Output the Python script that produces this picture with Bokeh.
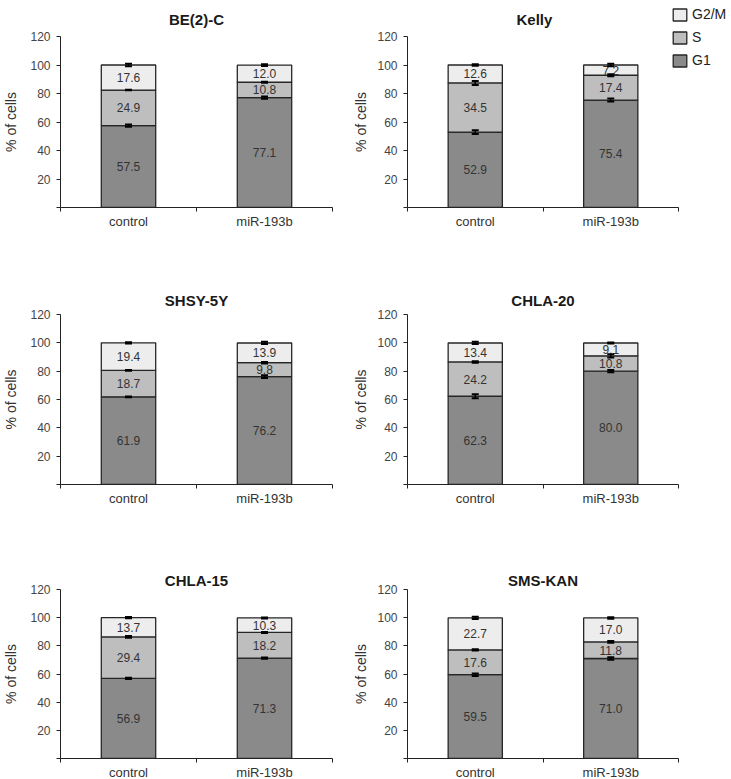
from bokeh.plotting import figure
from bokeh.layouts import column, row
from bokeh.models import (ColumnDataSource, Range1d, FixedTicker, Whisker, TeeHead,
                          Legend, LegendItem)
from bokeh.embed import file_html
from bokeh.resources import INLINE
from bokeh.core.properties import value

# ---------------- data ----------------
cell_lines = ["BE(2)-C", "Kelly", "SHSY-5Y", "CHLA-20", "CHLA-15", "SMS-KAN"]
conditions = ["control", "miR-193b"]
phases = ["G1", "S", "G2/M"]

g1_control = [57.5, 52.9, 61.9, 62.3, 56.9, 59.5]
g1_mir = [77.1, 75.4, 76.2, 80.0, 71.3, 71.0]
s_control = [24.9, 34.5, 18.7, 24.2, 29.4, 17.6]
s_mir = [10.8, 17.4, 9.8, 10.8, 18.2, 11.8]
g2m_control = [17.6, 12.6, 19.4, 13.4, 13.7, 22.7]
g2m_mir = [12.0, 7.2, 13.9, 9.1, 10.3, 17.0]

# error (SD) at the top of each segment
err_g1_control = [0.8, 1.3, 0.3, 1.4, 0.5, 0.9]
err_g1_mir = [0.8, 1.1, 1.0, 0.8, 0.4, 0.9]
err_s_control = [0.2, 1.4, 0.3, 0.5, 0.6, 0.5]
err_s_mir = [0.3, 0.7, 0.5, 1.2, 0.3, 0.6]
err_g2m_control = [0.8, 0.6, 0.5, 0.8, 0.4, 0.8]
err_g2m_mir = [0.6, 0.9, 0.8, 0.3, 0.4, 0.5]

y_ticks = [20, 40, 60, 80, 100, 120]

# ---------------- style ----------------
FONT = "Liberation Sans"
FILL = ["#8a8a8a", "#bebebe", "#ededed"]
EDGE = "#262626"
TXT = "#333333"

col_geom = [dict(left=58, fw=272, right=18, lab_standoff=8),
            dict(left=55, fw=271, right=50, lab_standoff=5)]
row_geom = [dict(top=36, fh=171, bottom=50, tstand=14, valign="top"),
            dict(top=57, fh=170, bottom=73, tstand=12, valign="bottom"),
            dict(top=32, fh=169, bottom=21, tstand=2, valign="bottom")]


def make_panel(i):
    r, c = divmod(i, 2)
    cg, rg = col_geom[c], row_geom[r]
    xs = [0.5, 1.5]
    g1 = [g1_control[i], g1_mir[i]]
    s = [s_control[i], s_mir[i]]
    g2m = [g2m_control[i], g2m_mir[i]]
    src = ColumnDataSource(dict(x=xs, G1=g1, S=s, G2M=g2m))

    p = figure(frame_width=cg["fw"], frame_height=rg["fh"],
               min_border_left=cg["left"], min_border_right=cg["right"],
               min_border_top=rg["top"], min_border_bottom=rg["bottom"],
               x_range=Range1d(0, 2), y_range=Range1d(0, 120),
               output_backend="svg", toolbar_location=None, tools="")
    p.background_fill_color = "white"
    p.border_fill_color = "white"
    p.outline_line_color = None
    p.xgrid.visible = False
    p.ygrid.visible = False

    # title
    p.title.text = cell_lines[i]
    p.title.text_font = FONT
    p.title.text_font_size = "15px"
    p.title.text_font_style = "bold"
    p.title.text_color = "#1a1a1a"
    p.title.standoff = rg["tstand"]
    p.title.vertical_align = rg["valign"]
    if i == 1:
        p.title.align = "left"
        p.title.offset = 109
    else:
        p.title.align = "center"

    rs = p.vbar_stack(["G1", "S", "G2M"], x="x", width=0.4, source=src,
                      fill_color=FILL, line_color=EDGE, line_width=1.3)

    # error bars at the top of each segment
    tops1 = g1
    tops2 = [a + b for a, b in zip(g1, s)]
    tops3 = [a + b + c2 for a, b, c2 in zip(g1, s, g2m)]
    errs = [err_g1_control[i], err_g1_mir[i], err_s_control[i], err_s_mir[i],
            err_g2m_control[i], err_g2m_mir[i]]
    tops = tops1 + tops2 + tops3
    wsrc = ColumnDataSource(dict(
        x=xs * 3,
        upper=[t + e for t, e in zip(tops, errs)],
        lower=[t - e for t, e in zip(tops, errs)]))
    w = Whisker(source=wsrc, base="x", upper="upper", lower="lower",
                dimension="height", line_color="black", line_width=1.5,
                upper_head=TeeHead(size=7, line_color="black", line_width=2),
                lower_head=TeeHead(size=7, line_color="black", line_width=2),
                level="glyph")
    p.add_layout(w)

    # value labels in the middle of each segment
    lx, ly, lt = [], [], []
    for k in range(2):
        bottoms = [0, g1[k], g1[k] + s[k]]
        for v, b in zip([g1[k], s[k], g2m[k]], bottoms):
            lx.append(xs[k])
            ly.append(b + v / 2)
            lt.append(f"{v:.1f}")
    p.text(x=lx, y=ly, text=lt, text_align="center", text_baseline="middle",
           text_font=value(FONT), text_font_size="12px", text_color=TXT)

    # axes
    xa = p.xaxis[0]
    xa.ticker = FixedTicker(ticks=xs, minor_ticks=[0, 1, 2])
    xa.major_label_overrides = {0.5: conditions[0], 1.5: conditions[1]}
    xa.major_tick_out = 0
    xa.major_tick_in = 0
    xa.minor_tick_out = 4
    xa.minor_tick_in = 0
    xa.major_label_standoff = 2
    xa.major_label_text_font = FONT
    xa.major_label_text_font_size = "13px"
    xa.major_label_text_color = TXT
    xa.axis_line_color = "#222222"
    xa.minor_tick_line_color = "#222222"

    ya = p.yaxis[0]
    ya.ticker = FixedTicker(ticks=y_ticks, minor_ticks=[0])
    ya.major_tick_out = 4
    ya.major_tick_in = 0
    ya.minor_tick_out = 4
    ya.minor_tick_in = 0
    ya.major_label_standoff = 6
    ya.major_label_text_font = FONT
    ya.major_label_text_font_size = "12px"
    ya.major_label_text_color = "#444444"
    ya.axis_line_color = "#222222"
    ya.major_tick_line_color = "#222222"
    ya.minor_tick_line_color = "#222222"
    ya.axis_label = "% of cells"
    ya.axis_label_text_font = FONT
    ya.axis_label_text_font_size = "14px"
    ya.axis_label_text_font_style = "normal"
    ya.axis_label_text_color = TXT
    ya.axis_label_standoff = cg["lab_standoff"]

    if i == 1:
        items = [LegendItem(label=phases[2], renderers=[rs[2]]),
                 LegendItem(label=phases[1], renderers=[rs[1]]),
                 LegendItem(label=phases[0], renderers=[rs[0]])]
        leg = Legend(items=items, location=(-7, 139),
                     border_line_color=None, background_fill_alpha=0,
                     padding=0, margin=0, spacing=7,
                     glyph_width=17, glyph_height=15, label_height=15,
                     label_standoff=4, label_text_font=FONT,
                     label_text_font_size="14px", label_text_color="#222222")
        p.add_layout(leg, "right")
    return p


panels = [make_panel(i) for i in range(6)]
layout = column(row(panels[0], panels[1]), row(panels[2], panels[3]),
                row(panels[4], panels[5]))

with open("out.html", "w") as f:
    f.write(file_html(layout, INLINE))
